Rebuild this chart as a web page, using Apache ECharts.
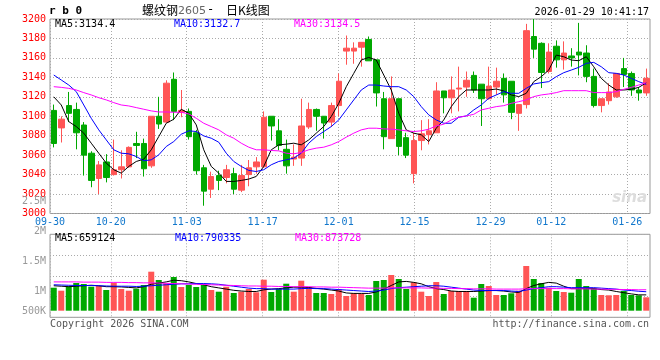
<!DOCTYPE html>
<html><head><meta charset="utf-8">
<script src="https://cdn.jsdelivr.net/npm/echarts@6/dist/echarts.min.js"></script>
<style>html,body{margin:0;padding:0;background:#fff}#c{width:660px;height:360px}</style>
</head><body><div id="c"></div>
<script>
const dates = ['09-30','10-09','10-10','10-13','10-14','10-15','10-16','10-17','10-20','10-21','10-22','10-23','10-24','10-27','10-28','10-29','10-30','10-31','11-03','11-04','11-05','11-06','11-07','11-10','11-11','11-12','11-13','11-14','11-17','11-18','11-19','11-20','11-21','11-24','11-25','11-26','11-27','11-28','12-01','12-02','12-03','12-04','12-05','12-08','12-09','12-10','12-11','12-12','12-15','12-16','12-17','12-18','12-19','12-22','12-23','12-24','12-25','12-26','12-29','12-30','12-31','01-05','01-06','01-07','01-08','01-09','01-12','01-13','01-14','01-15','01-16','01-19','01-20','01-21','01-22','01-23','01-26','01-27','01-28','01-29'];
const opens  = [3106,3088,3111,3107,3091,3062,3036,3053,3040,3045,3048,3072,3072,3049,3100,3094,3138,3104,3105,3083,3047,3025,3039,3037,3041,3024,3040,3048,3048,3100,3085,3066,3056,3057,3089,3107,3100,3094,3111,3167,3167,3171,3179,3158,3118,3077,3118,3078,3041,3075,3081,3083,3126,3119,3128,3130,3142,3133,3118,3130,3139,3136,3103,3112,3182,3175,3146,3172,3158,3162,3166,3165,3141,3111,3116,3120,3149,3144,3127,3124];
const closes = [3072,3097,3103,3083,3060,3034,3050,3037,3045,3048,3068,3070,3046,3100,3092,3134,3105,3106,3079,3044,3023,3038,3034,3045,3025,3039,3047,3053,3099,3090,3070,3049,3058,3090,3107,3100,3093,3111,3136,3170,3170,3176,3157,3124,3079,3118,3069,3060,3075,3082,3085,3126,3119,3127,3129,3137,3127,3118,3131,3136,3122,3104,3112,3188,3169,3145,3166,3158,3165,3160,3163,3141,3111,3118,3125,3144,3143,3127,3124,3139];
const lows   = [3068,3073,3094,3066,3039,3027,3020,3032,3039,3036,3047,3057,3038,3047,3087,3093,3096,3099,3076,3040,3008,3016,3024,3031,3020,3022,3028,3041,3047,3075,3065,3041,3049,3049,3087,3085,3077,3089,3100,3153,3154,3151,3157,3110,3066,3077,3060,3057,3031,3065,3071,3083,3103,3103,3105,3120,3124,3090,3117,3122,3114,3097,3085,3108,3160,3129,3144,3150,3148,3151,3142,3135,3109,3104,3112,3119,3130,3121,3116,3121];
const highs  = [3112,3100,3125,3114,3094,3064,3054,3061,3076,3065,3069,3084,3077,3100,3120,3137,3145,3127,3108,3086,3050,3043,3044,3050,3047,3050,3055,3058,3105,3100,3097,3076,3071,3118,3114,3108,3100,3114,3144,3183,3176,3176,3182,3158,3125,3141,3118,3083,3083,3096,3097,3135,3126,3141,3151,3146,3146,3133,3151,3150,3144,3136,3112,3195,3200,3176,3175,3178,3177,3170,3196,3173,3149,3118,3134,3144,3160,3146,3130,3149];
const ma5  = [3120,3111.6,3094.5,3089.4,3082.6,3072.3,3062,3051.8,3045,3041.5,3048.4,3053.5,3055.9,3065.5,3079.1,3092.8,3096.9,3107.2,3103.1,3091.1,3065.5,3048.4,3041.5,3033,3033,3034,3035.4,3038.1,3048.4,3065.5,3070.6,3071.3,3072.3,3070.6,3075.7,3082.6,3089.4,3099.7,3113.3,3130.4,3144.1,3157.8,3160.5,3157.8,3142.4,3127,3103.1,3086,3082.6,3080.9,3074,3087.7,3096.2,3109.9,3120.2,3127,3127,3127,3127,3128,3126,3121.9,3120.2,3123.6,3135.6,3140.7,3147.5,3162.9,3161.2,3157.8,3157.1,3161.2,3150.9,3139,3132.1,3127,3127,3127.7,3129.7,3134.4];
const ma10 = [3142.4,3137.3,3132.1,3125.3,3111.6,3097.9,3086,3075.7,3065.5,3062,3061.4,3058.6,3054.2,3055.2,3060.3,3068.9,3074,3081.5,3085,3084.3,3079.8,3077.4,3073.3,3062,3053.5,3048.4,3044.3,3043.2,3045,3050.1,3053.5,3055.2,3056.9,3062,3072.3,3079.1,3084.3,3089.4,3096.2,3106.5,3116.8,3127,3132.1,3132.1,3131.1,3130.4,3130.4,3127,3120.2,3109.9,3101.4,3096.2,3092.8,3092.8,3099,3100.3,3106.5,3111.6,3118.5,3121.9,3125.3,3123.6,3123.6,3128.7,3133.2,3134.5,3135.6,3140.7,3144.8,3147.5,3150.3,3154.4,3155.4,3150.9,3144.8,3144.1,3142.4,3139,3135.6,3132.7];
const ma30 = [3130.4,3129.7,3128.7,3127,3124.3,3121.9,3119.1,3116.8,3114,3111.6,3110.6,3108.9,3107.2,3105.5,3104.4,3104.4,3104.1,3104.1,3102.4,3097.9,3092.8,3089.4,3086,3080.9,3077.4,3072.3,3068.2,3065.5,3065.5,3064.8,3064.4,3062,3061.4,3062.7,3065.5,3067.2,3068.2,3070.6,3074,3078.5,3082.6,3086,3087.7,3087.7,3087,3086.7,3086,3085,3084.3,3085,3086.7,3090.1,3091.8,3096.2,3099,3100.3,3102,3106.5,3108.2,3109.9,3110.9,3113.3,3115,3116.8,3120.2,3121.9,3122.9,3124.3,3126.3,3126.3,3126.3,3126.3,3124.3,3124.3,3124.3,3125.3,3127.7,3129.7,3132.1,3134.5];
const volumes = [958000,833000,1017000,1154000,1113000,1000000,1029000,863000,1167000,904000,833000,917000,1071000,1625000,1279000,1142000,1404000,988000,1071000,988000,1071000,863000,792000,1000000,738000,792000,904000,767000,1292000,779000,904000,1125000,792000,1250000,988000,738000,738000,696000,892000,613000,725000,696000,654000,1238000,1279000,1488000,1321000,904000,1183000,792000,613000,1196000,696000,821000,821000,821000,542000,1113000,1029000,654000,654000,725000,833000,1863000,1321000,1154000,958000,821000,779000,750000,1321000,1029000,933000,654000,642000,654000,821000,654000,642000,558000];
const volMa5  = [1040000,1020000,1000000,1020000,1040000,1060000,1040000,1000000,1000000,990000,970000,950000,1000000,1100000,1150000,1200000,1270000,1250000,1200000,1130000,1080000,1000000,950000,900000,850000,820000,800000,800000,870000,900000,920000,950000,980000,980000,970000,930000,900000,860000,820000,740000,720000,720000,720000,780000,900000,1050000,1200000,1220000,1180000,1120000,1000000,920000,880000,820000,800000,800000,800000,820000,840000,840000,820000,780000,760000,920000,1050000,1120000,1180000,1150000,1020000,920000,920000,920000,920000,880000,860000,800000,750000,700000,660000,659124];
const volMa10 = [1080000,1070000,1060000,1050000,1050000,1050000,1040000,1030000,1020000,1020000,1020000,1010000,1020000,1040000,1060000,1080000,1100000,1120000,1120000,1130000,1130000,1120000,1100000,1060000,1020000,980000,940000,920000,920000,900000,900000,900000,900000,920000,930000,920000,920000,900000,880000,860000,840000,820000,800000,820000,860000,920000,960000,980000,1000000,1020000,1040000,1040000,1020000,980000,940000,900000,860000,840000,840000,840000,840000,820000,800000,860000,920000,960000,1000000,1000000,980000,960000,960000,960000,960000,940000,920000,900000,860000,840000,810000,790335];
const volMa30 = [1200000,1200000,1200000,1200000,1190000,1190000,1190000,1180000,1180000,1180000,1170000,1170000,1160000,1160000,1150000,1140000,1130000,1120000,1110000,1100000,1090000,1080000,1070000,1060000,1050000,1040000,1030000,1030000,1020000,1020000,1010000,1010000,1000000,1000000,1000000,990000,990000,980000,980000,970000,960000,950000,940000,940000,940000,950000,950000,950000,950000,950000,940000,940000,930000,930000,920000,920000,910000,910000,910000,900000,900000,900000,900000,910000,920000,920000,920000,920000,920000,910000,910000,910000,900000,900000,890000,890000,880000,880000,870000,873728];
const dateTickLabels = ['09-30','10-20','11-03','11-17','12-01','12-15','12-29','01-12','01-26'];
const volTickLabels = {0:'500K',20:'1M',50:'1.5M',80:'2M',110:'2.5M'};
const priceLegend = ['MA5:3134.4','MA10:3132.7','MA30:3134.5'];
const volLegend = ['MA5:659124','MA10:790335','MA30:873728'];
const symbolCode = 'r b 0';
const titleParts = ['螺纹钢','2605','-','日K线图'];
const timeStamp = '2026-01-29 10:41:17';

const UP = '#ff5555', DOWN = '#00a800';
const MONO = '"DejaVu Sans Mono", "Liberation Mono", monospace';
const GRIDLINE = {show:true, lineStyle:{color:'#aaaaaa', type:[1,2], width:1}};
const isTick = (i, v) => dateTickLabels.indexOf(v) >= 0;

const chart = echarts.init(document.getElementById('c'), null, {renderer:'canvas'});
const candleData = opens.map((o,i)=>[o, closes[i], lows[i], highs[i]]);
const volData = volumes.map((v,i)=>({value:v, itemStyle:{color: closes[i] >= opens[i] ? UP : DOWN}}));
const lineS = (name, data, color, xi, yi) => ({name, type:'line', data, xAxisIndex:xi, yAxisIndex:yi, symbol:'none', silent:true, animation:false, lineStyle:{color, width:1}, z:5});

chart.setOption({
  animation:false,
  backgroundColor:'#ffffff',
  grid:[
    {left:50, top:19, width:600, height:194.5, show:true, borderColor:'#999999', borderWidth:1, backgroundColor:'transparent'},
    {left:50, top:234.3, width:600, height:83, show:true, borderColor:'#999999', borderWidth:1, backgroundColor:'transparent'},
    {left:50, top:201, width:600, height:110, show:false}
  ],
  xAxis:[
    {type:'category', gridIndex:0, position:'top', data:dates, boundaryGap:true, axisLine:{show:false}, axisTick:{show:false}, axisLabel:{show:false}, splitLine:{show:false}},
    {type:'category', gridIndex:0, position:'bottom', data:dates, boundaryGap:false, axisLine:{show:false}, axisTick:{show:false},
      axisLabel:{show:true, interval:isTick, color:'#1177cc', fontFamily:MONO, fontSize:10, margin:4},
      splitLine:Object.assign({interval:isTick}, GRIDLINE)},
    {type:'category', gridIndex:1, position:'top', data:dates, boundaryGap:true, axisLine:{show:false}, axisTick:{show:false}, axisLabel:{show:false}, splitLine:{show:false}},
    {type:'category', gridIndex:1, position:'bottom', data:dates, boundaryGap:false, axisLine:{show:false}, axisTick:{show:false}, axisLabel:{show:false},
      splitLine:Object.assign({interval:isTick}, GRIDLINE)},
    {type:'category', gridIndex:2, data:dates, show:false}
  ],
  yAxis:[
    {type:'value', gridIndex:0, position:'left', min:3000, max:3200, interval:20, axisLine:{show:false}, axisTick:{show:false},
      axisLabel:{color:'#ff0000', fontFamily:MONO, fontSize:10, margin:4, padding:[0,0,4,0], formatter:(v)=>String(v)}, splitLine:GRIDLINE},
    {type:'value', gridIndex:1, position:'right', min:-275000, max:3183000, show:false, splitLine:{show:false}},
    {type:'value', gridIndex:1, position:'left', min:0, max:4, interval:1, axisLine:{show:false}, axisTick:{show:false}, axisLabel:{show:false}, splitLine:GRIDLINE},
    {type:'value', gridIndex:2, position:'left', min:0, max:110, interval:10, axisLine:{show:false}, axisTick:{show:false}, splitLine:{show:false},
      axisLabel:{color:'#999999', fontFamily:MONO, fontSize:10, margin:4, padding:[0,0,4,0], formatter:(v)=>volTickLabels[v] || ''}}
  ],
  series:[
    {type:'candlestick', xAxisIndex:0, yAxisIndex:0, data:candleData, barWidth:6, silent:true,
      itemStyle:{color:UP, color0:DOWN, borderColor:UP, borderColor0:DOWN, borderWidth:1}},
    lineS('MA5', ma5, '#000000', 0, 0),
    lineS('MA10', ma10, '#0000ff', 0, 0),
    lineS('MA30', ma30, '#ff00ff', 0, 0),
    {type:'bar', xAxisIndex:2, yAxisIndex:1, data:volData, barWidth:6, silent:true},
    lineS('VMA5', volMa5, '#000000', 2, 1),
    lineS('VMA10', volMa10, '#0000ff', 2, 1),
    lineS('VMA30', volMa30, '#ff00ff', 2, 1)
  ],
  graphic:[
    {type:'text', x:49, y:11, z:10, style:{text:symbolCode, font:'bold 11px '+MONO, fill:'#000', verticalAlign:'middle'}},
    {type:'text', x:142, y:10, z:10, style:{text:titleParts[0], font:'12px "Noto Sans CJK SC"', fill:'#000', verticalAlign:'middle'}},
    {type:'text', x:178, y:11, z:10, style:{text:titleParts[1], font:'11px "DejaVu Sans"', fill:'#666', verticalAlign:'middle'}},
    {type:'text', x:207, y:10, z:10, style:{text:titleParts[2], font:'12px '+MONO, fill:'#000', verticalAlign:'middle'}},
    {type:'text', x:226, y:10, z:10, style:{text:titleParts[3], font:'12px "Noto Sans CJK SC"', fill:'#000', verticalAlign:'middle'}},
    {type:'text', x:649, y:12, z:10, style:{text:timeStamp, font:'10px '+MONO, fill:'#000', align:'right', verticalAlign:'middle'}},
    {type:'text', x:55, y:24, z:10, style:{text:priceLegend[0], font:'10px '+MONO, fill:'#000', verticalAlign:'middle'}},
    {type:'text', x:174, y:24, z:10, style:{text:priceLegend[1], font:'10px '+MONO, fill:'#0000ff', verticalAlign:'middle'}},
    {type:'text', x:294, y:24, z:10, style:{text:priceLegend[2], font:'10px '+MONO, fill:'#ff00ff', verticalAlign:'middle'}},
    {type:'text', x:55, y:238.5, z:10, style:{text:volLegend[0], font:'10px '+MONO, fill:'#000', verticalAlign:'middle'}},
    {type:'text', x:175, y:238.5, z:10, style:{text:volLegend[1], font:'10px '+MONO, fill:'#0000ff', verticalAlign:'middle'}},
    {type:'text', x:295, y:238.5, z:10, style:{text:volLegend[2], font:'10px '+MONO, fill:'#ff00ff', verticalAlign:'middle'}},
    {type:'text', x:50, y:324, z:10, style:{text:'Copyright 2026 SINA.COM', font:'10px '+MONO, fill:'#555', verticalAlign:'middle'}},
    {type:'text', x:649, y:324, z:10, style:{text:'http://finance.sina.com.cn', font:'10px '+MONO, fill:'#555', align:'right', verticalAlign:'middle'}},
    {type:'text', x:647, y:198, z:1, style:{text:'sina', font:'italic bold 15px "DejaVu Sans"', fill:'#dddddd', align:'right', verticalAlign:'middle'}}
  ]
});
</script></body></html>
